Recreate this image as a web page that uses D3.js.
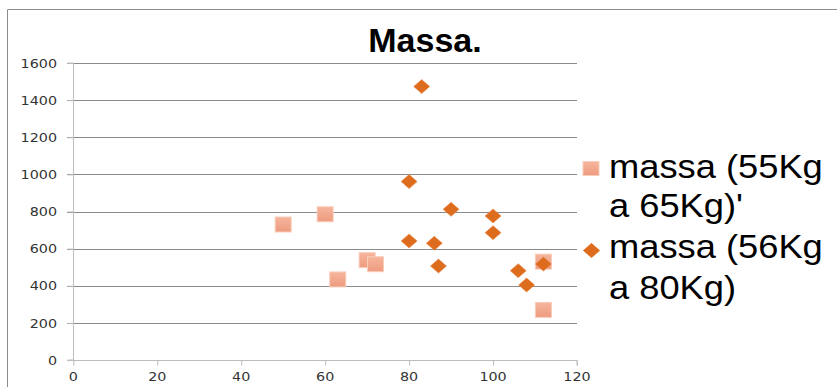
<!DOCTYPE html>
<html><head><meta charset="utf-8">
<script src="https://cdn.jsdelivr.net/npm/d3@7"></script>
<style>html,body{margin:0;padding:0;background:#fff;overflow:hidden}</style>
</head><body>
<svg id="c" width="837" height="387"></svg>
<script>
const title = "Massa.";
const xTicks = [0, 20, 40, 60, 80, 100, 120];
const yTicks = [0, 200, 400, 600, 800, 1000, 1200, 1400, 1600];
const series1Name = ["massa (55Kg", "a 65Kg)'"];
const series2Name = ["massa (56Kg", "a 80Kg)"];
const s1x = [50, 60, 63, 70, 72, 112, 112];
const s1y = [730, 785, 434, 538, 516, 530, 270];
const s2x = [83, 80, 80, 86, 87, 90, 100, 100, 106, 108, 112];
const s2y = [1473, 961, 641, 629, 506, 812, 776, 686, 481, 404, 517];

const svg = d3.select("#c");
const x = d3.scaleLinear().domain([0, 120]).range([73.3, 577]);
const y = d3.scaleLinear().domain([0, 1600]).range([360, 63]);

const defs = svg.append("defs");
const g1 = defs.append("linearGradient").attr("id","sq").attr("x1",0).attr("y1",0).attr("x2",0).attr("y2",1);
g1.append("stop").attr("offset","0%").attr("stop-color","#F6B59D");
g1.append("stop").attr("offset","100%").attr("stop-color","#EE9B7E");

// chart border
svg.append("path").attr("d","M7.5,387 V9.5 H837").attr("fill","none").attr("stroke","#8c8c8c").attr("stroke-width",1);

// gridlines
svg.append("g").selectAll("line").data(yTicks.filter(d=>d>0)).join("line")
  .attr("x1", 67).attr("x2", x(120)).attr("y1", d=>Math.round(y(d))+0.5).attr("y2", d=>Math.round(y(d))+0.5)
  .attr("stroke","#8a8a8a").attr("stroke-width",1);

// axes
const yAxis = d3.axisLeft(y).tickValues(yTicks).tickSize(6).tickFormat("");
const ga = svg.append("g").attr("transform","translate("+(Math.round(x(0))+0.5)+",0)").call(yAxis);
ga.select(".domain").attr("stroke","#bdbdbd").attr("d","M-6,"+y(1600)+"H0V"+y(0)+"H-6");
ga.selectAll(".tick line").attr("stroke","#bdbdbd");
const xAxis = d3.axisBottom(x).tickValues(xTicks).tickSize(5).tickFormat("");
const gx = svg.append("g").attr("transform","translate(0,"+(Math.round(y(0))+0.5)+")").call(xAxis);
gx.select(".domain").attr("stroke","#bdbdbd").attr("d","M"+(x(0)-6)+",0H"+x(120)+"V5");
gx.selectAll(".tick line").attr("stroke","#bdbdbd");

// tick labels
svg.append("g").selectAll("text").data(yTicks).join("text")
  .attr("transform", d=>"translate(57,"+(y(d)+4.7)+") scale(1.1,1)")
  .attr("text-anchor","end").attr("font-family","DejaVu Sans").attr("font-size",13)
  .attr("fill","#333").text(d=>d);
svg.append("g").selectAll("text").data(xTicks).join("text")
  .attr("transform", d=>"translate("+x(d)+",381) scale(1.1,1)")
  .attr("text-anchor","middle").attr("font-family","DejaVu Sans").attr("font-size",13)
  .attr("fill","#333").text(d=>d);

// series 1 squares
const d1 = s1x.map((v,i)=>({x:v,y:s1y[i]}));
svg.append("g").selectAll("rect").data(d1).join("rect")
  .attr("x", d=>x(d.x)-8).attr("y", d=>y(d.y)-7.5).attr("width",16).attr("height",15)
  .attr("fill","url(#sq)").attr("stroke","#F8CDBA").attr("stroke-width",1);

// series 2 diamonds
const d2 = s2x.map((v,i)=>({x:v,y:s2y[i]}));
const diamond = (cx,cy,w,h)=>"M"+(cx-w/2)+","+cy+"L"+cx+","+(cy-h/2)+"L"+(cx+w/2)+","+cy+"L"+cx+","+(cy+h/2)+"Z";
svg.append("g").selectAll("path").data(d2).join("path")
  .attr("d", d=>diamond(x(d.x), y(d.y), 16, 14))
  .attr("fill","#DE6C1E").attr("stroke","#E98A4A").attr("stroke-width",0.6);

// title
svg.append("text").attr("x",425).attr("y",52).attr("text-anchor","middle")
  .attr("font-family","Liberation Sans, Arial").attr("font-weight","bold").attr("font-size",34)
  .attr("fill","#000").text(title);

// legend
svg.append("rect").attr("x",583).attr("y",161.5).attr("width",16).attr("height",14)
  .attr("fill","url(#sq)").attr("stroke","#F8CDBA");
svg.append("path").attr("d", diamond(591.5, 250.5, 17, 15)).attr("fill","#DE6C1E");
const legLines = [[series1Name[0],178],[series1Name[1],217],[series2Name[0],258],[series2Name[1],299]];
svg.append("g").selectAll("text").data(legLines).join("text")
  .attr("transform", d=>"translate(609,"+d[1]+") scale(1.1,1)")
  .attr("font-family","Liberation Sans, Arial").attr("font-size",33).attr("fill","#000")
  .text(d=>d[0]);
</script>
</body></html>
